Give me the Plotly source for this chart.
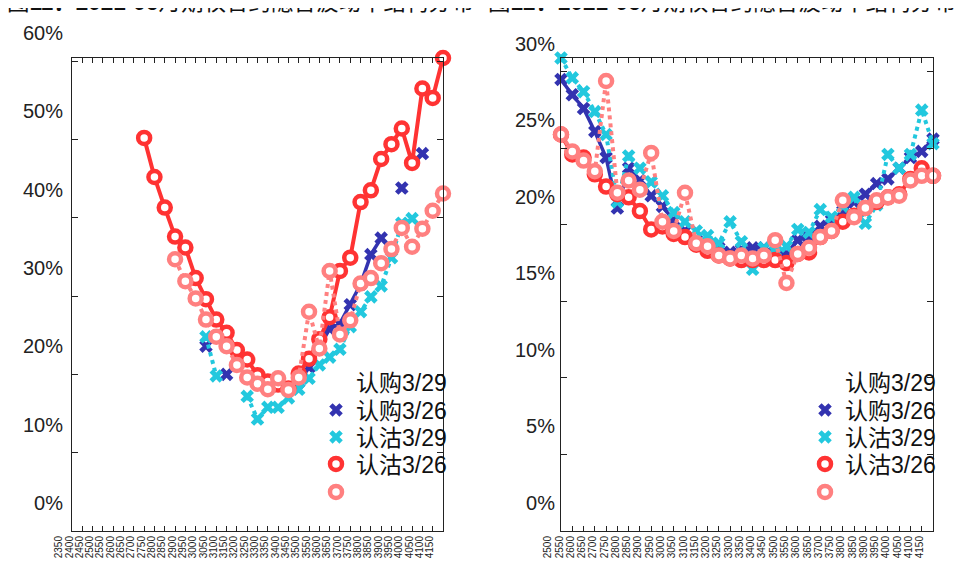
import plotly.graph_objects as go

# ---------------- data ----------------
left_strikes = list(range(2350, 4151, 50))      # 37 strikes
right_strikes = list(range(2500, 4151, 50))     # 34 strikes

def pad(start, vals, strikes):
    d = {}
    for i, v in enumerate(vals):
        d[start + 50 * i] = v
    return [None if d.get(s) is None else d[s] / 100 for s in strikes]

# left chart (values in %)
left_blue_vals = [23.6, None, 20.0, None, None, None, None, 18.5, 18.3, 19.0, 20.9, 23.5,
                  25.8, 26.5, 28.9, 31.5, 35.3, 37.4, None, 43.8, None, 48.2]            # from 3000
left_cyan_vals = [24.8, 19.8, None, None, 17.2, 14.3, 15.8, 15.8, 17.0, 18.1, 19.5, 21.2,
                  22.2, 23.2, 26.1, 28.0, 29.9, 31.3, 34.9, 39.3, 39.9]                  # from 3000
left_red_vals = [50.2, 45.2, 41.3, 37.6, 36.2, 32.3, 29.6, 27.0, 25.3, 23.1, 21.9, 19.9,
                 19.1, 18.7, 18.2, 20.1, 22.0, 24.5, 27.3, 33.2, 34.9, 42.0, 43.5, 47.5,
                 49.4, 51.4, 47.0, 56.5, 55.3, 60.4]                                     # from 2700
left_pink_vals = [34.7, 31.9, 29.7, 27.0, 24.8, 23.6, 21.2, 19.6, 18.8, 18.1, 19.5, 18.0,
                  19.6, 28.0, 23.3, 33.2, 25.1, 26.9, 31.6, 32.3, 34.2, 36.0, 38.7, 36.3,
                  38.6, 40.9, 43.1]                                                      # from 2850

# right chart (values in %), 2500..4150
right_blue_vals = [29.5, 28.5, 27.6, 26.1, 24.4, 21.1, 23.7, 22.9, 21.9, 21.2, 20.3, 19.6,
                   19.0, 18.7, 18.5, 18.2, 18.4, 18.5, 18.5, 18.2, 18.1, 19.0, 19.2, 19.9,
                   20.3, 20.9, 21.5, 22.0, 22.7, 23.0, 23.7, 24.4, 24.8, 25.6]
right_cyan_vals = [30.9, 29.6, 28.7, 27.4, 25.9, 21.5, 24.5, 23.7, 22.8, 21.9, 20.8, 20.2,
                   19.6, 19.3, 18.8, 20.2, 18.9, 17.1, 18.5, 18.3, 18.6, 19.7, 19.5, 21.0,
                   20.5, 21.2, 21.8, 20.1, 21.3, 24.6, 23.7, 24.6, 27.5, 25.3]
right_red_vals = [25.9, 24.6, 24.4, 23.3, 22.5, 22.0, 21.8, 20.9, 19.7, 19.9, 19.4, 19.2,
                  18.7, 18.3, 18.0, 17.8, 17.7, 17.7, 17.7, 17.7, 17.5, 18.1, 18.2, 19.2,
                  19.6, 20.2, 20.6, 21.1, 21.5, 21.8, 22.0, 23.0, 23.7, 23.2]
right_pink_vals = [25.9, 24.8, 24.2, 23.5, 29.4, 22.1, 22.9, 22.3, 24.7, 20.2, 19.6, 22.1,
                   18.8, 18.6, 18.0, 17.8, 18.0, 17.8, 18.0, 19.0, 16.2, 18.1, 18.5, 19.2,
                   19.6, 21.6, 20.5, 21.1, 21.6, 21.8, 21.9, 22.9, 23.2, 23.2]

legend_names = ["认购3/29", "认购3/26", "认沽3/29", "认沽3/26", " "]
titles = ["图<b>11：2021-06</b>月期权合约隐含波动率结构分布",
          "图<b>12：2021-06</b>月期权合约隐含波动率结构分布"]

left_blue = pad(3000, left_blue_vals, left_strikes)
left_cyan = pad(3000, left_cyan_vals, left_strikes)
left_red = pad(2700, left_red_vals, left_strikes)
left_pink = pad(2850, left_pink_vals, left_strikes)
right_blue = pad(2500, right_blue_vals, right_strikes)
right_cyan = pad(2500, right_cyan_vals, right_strikes)
right_red = pad(2500, right_red_vals, right_strikes)
right_pink = pad(2500, right_pink_vals, right_strikes)

# ---------------- styles ----------------
BLUE = "#3333b0"
CYAN = "#22c8de"
RED = "#ff3333"
PINK = "#ff8080"
FONT = "Liberation Sans, Noto Sans CJK SC, sans-serif"

# page has an 8px body margin: figure coordinates = page coordinates - 8
OFF = 8
W, H = 971 - 2 * OFF, 568 - 2 * OFF
L, T = 72 - OFF, 58 - OFF
R = W - (933 - OFF)
B = H - (531 - OFF)
pw = W - L - R
ph = H - T - B

def px(x):      # page pixel x -> paper
    return (x - OFF - L) / pw

def py(y):      # page pixel y -> paper
    return (H - B - (y - OFF)) / ph

def lg(n):
    return "legend" if n == 1 else f"legend{n}"

X_MARK = lambda c: dict(symbol="x", size=12, color=c, line=dict(width=0))
O_MARK = lambda c: dict(symbol="circle", size=12, color="white", line=dict(color=c, width=4.5))

series_styles = [
    (dict(color=BLUE, width=3.5), X_MARK(BLUE)),
    (dict(color=CYAN, width=4, dash="dot"), X_MARK(CYAN)),
    (dict(color=RED, width=4), O_MARK(RED)),
    (dict(color=PINK, width=4, dash="dot"), O_MARK(PINK)),
]

fig = go.Figure()

def add_set(xs, ys_list, xa, ya, base):
    # legend-only entries (marker symbols, as in the original legend)
    fig.add_trace(go.Scatter(x=[None], y=[None], mode="markers", name=legend_names[0],
                             marker=dict(color="rgba(0,0,0,0)"), xaxis=xa, yaxis=ya,
                             legend=lg(base + 1)))
    for i, (ys, (ln, mk)) in enumerate(zip(ys_list, series_styles)):
        fig.add_trace(go.Scatter(x=xs, y=ys, mode="lines+markers", line=ln, marker=mk,
                                 showlegend=False, cliponaxis=False, xaxis=xa, yaxis=ya))
    for i, (ln, mk) in enumerate(series_styles):
        fig.add_trace(go.Scatter(x=[None], y=[None], mode="markers", name=legend_names[i + 1],
                                 marker=mk, xaxis=xa, yaxis=ya, legend=lg(base + 2 + i)))

add_set(left_strikes, [left_blue, left_cyan, left_red, left_pink], "x", "y", 0)
add_set(right_strikes, [right_blue, right_cyan, right_red, right_pink], "x2", "y2", 5)

xcommon = dict(tickangle=-90, ticks="inside", ticklen=5, tickcolor="#222", showline=True,
               linecolor="#222", linewidth=1, mirror="ticks", showgrid=False, zeroline=False,
               automargin=False,
               tickfont=dict(family=FONT, size=10, color="#222"), ticklabelshift=-13)
ycommon = dict(ticks="inside", ticklen=6, tickcolor="#222", showline=True, linecolor="#222",
               linewidth=1, mirror="ticks", showgrid=False, zeroline=False, tickformat=".0%",
               automargin=False,
               tickfont=dict(family=FONT, size=20, color="#222"), ticklabelshift=-28)

layout = dict(
    width=W, height=H,
    margin=dict(l=L, r=R, t=T, b=B, autoexpand=False),
    paper_bgcolor="white", plot_bgcolor="white",
    font=dict(family=FONT),
    xaxis=dict(domain=[0, px(443)], range=[2350, 4150], tickvals=left_strikes, **xcommon),
    yaxis=dict(range=[0, 0.604], dtick=0.1, ticklabelstandoff=4, **ycommon),
    xaxis2=dict(domain=[px(561), 1], range=[2500, 4150], tickvals=right_strikes,
                anchor="y2", **xcommon),
    yaxis2=dict(range=[0, 0.309], dtick=0.05, anchor="x2", ticklabelstandoff=1, **ycommon),
    showlegend=True,
)

row_y = [382, 410, 437, 464, 492]
for chart, text_x in enumerate([358, 847]):
    for r, yc in enumerate(row_y):
        n = chart * 5 + r + 1
        layout[lg(n)] = dict(x=px(text_x - 42), y=py(yc), xanchor="left", yanchor="middle",
                             bgcolor="rgba(0,0,0,0)", itemwidth=30,
                             font=dict(family=FONT, size=23, color="#111"))

fig.update_layout(**layout)

for t, x0 in zip(titles, [5, 486]):
    fig.add_annotation(text=t, xref="paper", yref="paper", x=px(x0), y=py(17),
                       xanchor="left", yanchor="bottom", showarrow=False,
                       font=dict(family=FONT, size=22.5, color="#111"))

fig.write_html("out.html")
